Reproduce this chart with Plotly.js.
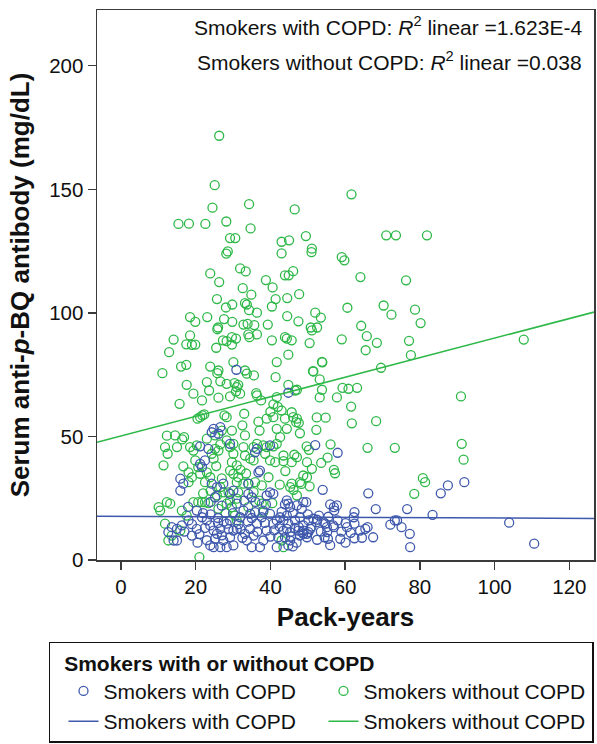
<!DOCTYPE html>
<html>
<head>
<meta charset="utf-8">
<script src="https://cdn.plot.ly/plotly-3.0.1.min.js"></script>
<style>
html,body{margin:0;padding:0;background:#fff;}
#chart{width:597px;height:744px;}
</style>
</head>
<body>
<div id="chart"></div>
<script>
// Smokers without COPD (green): pack-years and serum anti-p-BQ antibody (mg/dL)
const nonCopdPackYears = [
26.3,25.1,24.5,34.3,46.5,61.7,15.4,18.2,22.6,28.2,34.7,29.2,30.6,43.0,45.0,49.5,71.0,73.6,81.9,28.6,
28.2,43.0,51.1,51.0,59.1,59.8,31.9,33.4,23.9,26.3,38.8,43.9,44.9,46.1,64.1,76.3,32.6,40.6,34.9,25.7,
41.4,44.5,47.7,29.8,28.1,33.2,33.7,34.3,36.4,40.4,60.6,70.3,72.4,78.7,80.2,44.5,47.5,52.0,53.5,50.8,
52.5,64.3,18.5,19.9,23.1,27.6,29.8,32.8,33.9,35.7,39.3,26.0,50.5,65.8,59.1,68.5,77.1,65.5,77.6,53.8,
51.4,69.6,107.8,53.2,47.1,53.8,59.3,60.9,63.2,53.2,57.8,91.0,61.6,47.1,47.6,52.4,54.8,68.3,61.8,47.9,
52.3,91.2,56.1,66.0,73.3,49.7,50.3,47.1,49.8,55.3,53.6,91.7,57.0,57.3,51.1,49.8,48.3,50.5,80.8,81.4,
78.5,47.1,46.4,45.7,43.5,43.5,48.8,47.9,45.7,45.3,46.2,43.0,43.5,18.5,17.5,19.0,19.9,14.1,12.9,25.8,
27.3,25.5,28.3,29.7,30.8,29.7,34.1,34.4,36.4,40.4,41.7,11.1,16.1,17.5,23.9,25.8,26.1,26.6,30.1,33.2,
33.7,35.6,41.4,17.6,23.0,28.3,30.4,31.0,31.4,30.8,23.6,36.2,36.4,19.4,21.7,26.1,29.2,31.9,15.7,37.5,
40.8,41.7,21.2,22.3,20.5,21.8,27.7,28.3,33.0,32.5,29.7,27.0,37.1,39.0,40.8,41.7,14.5,16.9,16.4,33.2,
23.0,25.2,28.3,30.1,11.8,15.0,35.5,39.0,40.8,43.9,44.4,45.7,51.1,44.8,53.9,51.5,44.8,46.6,43.0,45.7,
43.9,46.1,46.9,44.4,42.6,12.5,11.4,16.7,18.5,19.4,20.3,24.3,25.2,26.6,18.1,19.0,18.1,21.2,23.0,23.9,
22.5,20.7,19.9,26.1,29.2,30.1,29.7,29.2,30.1,31.0,32.8,33.2,34.6,35.5,34.1,35.9,37.7,38.1,39.9,41.3,
31.0,26.6,27.4,25.7,28.8,28.3,29.7,31.0,29.2,19.4,20.7,21.7,22.5,23.4,10.1,10.5,12.3,13.2,11.8,13.6,
15.9,12.7,16.3,17.6,31.0,34.1,37.7,38.1,21.0,12.3,36.4,38.6,41.7,31.4,32.8,31.4,26.1,
24.0,27.0,32.0,35.5,39.5,42.5,22.0,25.5,33.5,37.0,40.5,28.0,24.8,30.5,36.8,42.0,44.0,40.0
];
const nonCopdAntibody = [
171.7,151.7,142.6,144.0,141.9,148.0,136.0,136.1,136.0,137.0,134.2,130.3,130.3,128.8,129.4,131.1,131.4,131.4,131.4,124.9,
124.0,124.1,126.0,124.6,122.6,121.3,118.0,116.8,116.0,112.5,113.3,115.2,115.2,116.9,114.5,113.2,110.0,110.3,107.4,105.6,
105.6,106.0,107.6,103.4,102.2,104.0,103.4,101.1,100.1,102.6,102.1,103.0,99.3,101.3,95.9,98.7,96.6,100.1,98.1,94.1,
94.1,94.8,98.3,96.4,98.3,97.5,96.4,95.3,95.6,95.1,95.3,94.1,87.8,90.6,89.3,87.9,88.7,84.9,82.9,80.2,
76.4,77.8,89.2,73.1,68.9,68.9,69.7,69.3,69.7,65.8,65.8,66.2,62.1,57.2,55.5,57.7,57.6,56.2,55.3,51.3,
52.7,47.0,46.8,45.4,45.4,46.0,44.6,41.6,39.6,41.4,39.3,40.6,36.5,35.1,36.9,33.5,30.8,29.8,33.1,31.5,
26.8,26.1,42.6,39.6,42.3,40.0,34.2,31.5,30.9,29.5,28.4,7.9,5.2,90.9,87.3,87.1,87.2,89.2,84.1,93.4,
88.9,85.9,88.6,90.2,89.6,87.2,91.3,90.2,91.3,88.9,80.1,75.6,78.3,79.0,78.3,75.6,76.7,72.3,80.1,76.7,
75.4,74.7,74.0,70.9,72.0,71.3,71.6,70.0,70.9,68.2,68.6,67.5,66.6,67.3,64.6,65.7,66.2,67.3,63.2,64.6,
63.0,65.9,57.8,58.9,57.2,58.5,58.5,57.8,59.2,54.5,52.4,52.4,52.4,57.2,57.8,53.1,50.4,49.7,48.8,50.4,
49.1,50.4,48.4,47.0,45.7,45.7,45.7,45.7,46.0,90.2,89.6,88.9,92.9,83.1,80.0,76.3,70.9,68.6,60.5,59.8,
57.2,57.8,55.8,53.1,49.7,43.0,38.3,37.9,45.7,44.3,46.4,43.0,45.0,46.8,35.5,33.5,31.5,34.9,35.5,33.5,
31.5,37.6,40.3,44.3,45.7,43.0,39.6,36.2,34.9,38.3,45.7,42.3,41.0,40.3,30.9,31.5,30.2,46.4,40.3,39.6,
31.5,29.5,27.4,26.1,27.4,22.8,21.4,24.8,24.1,23.4,23.4,23.4,23.4,23.0,21.4,20.0,23.4,22.8,14.7,9.9,
11.9,7.9,20.0,18.0,16.0,21.4,22.8,19.4,1.2,50.3,47.0,43.0,47.0,33.5,30.9,27.4,20.7,
28.0,33.0,36.5,27.5,33.5,30.5,27.0,38.0,35.0,24.0,23.0,19.0,41.0,18.0,56.0,62.0,36.0,60.0
];

// Smokers with COPD (blue)
const copdPackYears = [
52.0,58.0,54.0,66.2,85.6,87.5,91.9,47.1,49.6,56.0,57.0,57.8,57.1,62.5,62.3,68.2,76.6,83.4,103.9,110.6,
73.3,73.9,72.1,75.1,77.3,77.4,67.5,64.5,65.4,66.0,60.1,60.5,62.5,58.7,60.1,62.5,54.7,57.0,55.2,52.5,
54.5,55.4,50.7,49.8,48.9,47.9,47.6,48.5,49.8,52.5,44.4,43.9,45.3,44.8,48.8,48.4,64.0,42.6,43.5,44.4,
44.8,46.6,48.8,50.2,51.5,52.4,54.2,55.1,56.8,43.5,44.4,45.3,43.9,45.3,44.8,47.5,48.8,50.2,47.9,30.9,
24.8,24.3,26.6,26.1,21.2,29.2,36.4,39.9,44.8,35.9,37.2,23.4,15.9,15.9,16.7,21.7,21.2,22.5,24.3,25.7,
27.4,25.2,29.2,30.1,36.8,34.1,39.9,40.8,39.0,20.3,21.7,23.0,23.9,24.8,25.7,26.6,25.2,23.9,24.8,26.6,
27.4,15.0,16.3,19.0,20.3,18.1,14.1,15.0,12.7,28.3,29.2,30.1,31.0,29.2,28.3,30.1,32.8,34.6,35.9,37.7,
36.4,34.6,33.2,35.5,33.7,35.0,37.2,38.1,39.0,40.8,41.7,39.9,38.1,42.1,41.7,31.0,31.9,35.0,34.1,13.6,
22.0,24.0,26.0,27.5,22.5,21.0,23.0,27.0,28.8,31.5,32.5,34.0,36.5,38.5,40.0,41.0,42.5,43.0,46.0,46.5,
45.5,46.0,50.0,51.0,53.5,53.0,55.5,58.0,59.0,61.5,56.0,47.0,38.8,36.0,33.0,27.0,24.0,19.0,17.0,20.5,
18.0,32.0,35.0,30.0,26.0
];
const copdAntibody = [
46.5,43.4,28.4,27.0,27.0,30.2,31.5,22.1,23.4,22.5,21.4,22.1,20.0,19.4,17.3,20.6,20.6,18.3,15.1,6.6,
16.0,16.0,14.3,13.3,10.6,5.2,9.2,9.0,12.6,13.3,14.9,13.3,14.7,8.6,7.0,8.8,14.7,13.3,11.3,8.2,
9.2,8.6,12.6,10.6,11.9,17.3,13.3,11.3,9.2,16.3,24.1,22.5,21.4,22.8,23.4,20.7,11.9,17.3,16.0,18.0,
14.7,16.0,14.0,16.0,16.7,15.3,15.3,13.3,14.0,11.9,12.6,11.3,9.2,7.9,5.9,11.9,10.6,11.3,9.9,77.0,
53.1,51.7,53.8,51.1,46.0,47.0,45.0,46.4,67.7,43.6,36.2,45.0,32.9,28.1,30.9,37.6,38.9,40.3,30.9,29.5,
30.9,25.4,26.8,28.1,35.5,30.9,27.4,26.8,26.1,20.0,17.3,16.0,14.0,11.9,10.6,12.6,8.6,5.9,5.2,5.2,
7.9,12.6,14.0,9.9,12.6,16.0,7.9,7.9,11.3,14.7,16.0,11.9,12.6,9.2,5.2,5.9,20.0,18.7,19.4,17.3,
14.7,12.6,10.6,9.9,7.9,5.2,5.2,7.9,11.9,14.7,16.0,18.7,20.0,9.2,5.2,22.8,17.3,25.4,26.8,13.3,
19.0,18.5,17.0,15.5,13.0,10.5,8.0,10.0,12.5,14.5,9.0,15.5,11.5,15.0,9.5,12.0,13.5,19.5,19.0,13.0,
9.5,5.5,18.5,13.5,11.5,18.0,17.5,16.0,11.5,11.0,6.0,7.0,22.5,23.5,24.0,22.0,23.5,14.5,11.5,7.0,
21.5,12.5,17.0,19.0,15.0
];

// Linear fits: [intercept, slope]
const copdFit = [17.66, -0.0068];
const nonCopdFit = [50.2, 0.396];
const fitRange = [-6.4, 126.6];

const xTicks = [0, 20, 40, 60, 80, 100, 120];
const yTicks = [0, 50, 100, 150, 200];

const BLUE = '#3E58AC';
const GREEN = '#2EB848';
const FONT = 'Arial, "Liberation Sans", sans-serif';

const lineY = (fit) => fitRange.map(x => fit[0] + fit[1] * x);

const traces = [
  {
    x: nonCopdPackYears, y: nonCopdAntibody, type: 'scatter', mode: 'markers',
    name: 'Smokers without COPD', legendrank: 2,
    marker: {symbol: 'circle-open', size: 9, color: GREEN, line: {width: 1.3, color: GREEN}}
  },
  {
    x: copdPackYears, y: copdAntibody, type: 'scatter', mode: 'markers',
    name: 'Smokers with COPD', legendrank: 1,
    marker: {symbol: 'circle-open', size: 9, color: BLUE, line: {width: 1.3, color: BLUE}}
  },
  {
    x: fitRange, y: lineY(copdFit), type: 'scatter', mode: 'lines',
    name: 'Smokers with COPD', legendrank: 3,
    line: {color: BLUE, width: 1.5}
  },
  {
    x: fitRange, y: lineY(nonCopdFit), type: 'scatter', mode: 'lines',
    name: 'Smokers without COPD', legendrank: 4,
    line: {color: GREEN, width: 1.5}
  }
];

const axisCommon = {
  showgrid: false, zeroline: false,
  showline: true, mirror: true, linecolor: '#3a3a3a', linewidth: 1.5,
  ticks: 'outside', ticklen: 8, tickwidth: 1.3, tickcolor: '#3a3a3a',
  tickfont: {family: FONT, size: 20.5, color: '#111'}
};

const legendTitlePad = '&nbsp;'.repeat(37);

const layout = {
  width: 597, height: 744,
  margin: {l: 97, r: 3, t: 10, b: 184, autoexpand: false},
  paper_bgcolor: '#fff', plot_bgcolor: '#fff',
  font: {family: FONT, color: '#111'},
  showlegend: true,
  xaxis: Object.assign({}, axisCommon, {
    range: fitRange, tickvals: xTicks, ticktext: xTicks.map(String),
    title: {text: '<b>Pack-years</b>', font: {family: FONT, size: 26, color: '#111'}, standoff: 10}
  }),
  yaxis: Object.assign({}, axisCommon, {
    range: [0, 222.6], tickvals: yTicks, ticktext: yTicks.map(String),
    title: {text: '<b>Serum anti-<i>p</i>-BQ antibody (mg/dL)</b>', font: {family: FONT, size: 26, color: '#111'}, standoff: 12}
  }),
  legend: {
    orientation: 'h', x: -0.0966, xanchor: 'left', y: -0.149, yanchor: 'top',
    bordercolor: '#111', borderwidth: 1.5, bgcolor: '#fff',
    entrywidth: 202, entrywidthmode: 'pixels', indentation: 13,
    traceorder: 'normal',
    font: {family: FONT, size: 21, color: '#111'},
    title: {text: '<b>&nbsp;&nbsp;Smokers with or without COPD' + legendTitlePad + '</b>', side: 'top', font: {family: FONT, size: 21, color: '#111'}}
  },
  annotations: [
    {xref: 'paper', yref: 'paper', x: 0.98, y: 0.971, xanchor: 'right', yanchor: 'middle', showarrow: false,
     text: 'Smokers with COPD: <i>R</i><sup>2</sup> linear =1.623E-4', font: {family: FONT, size: 21, color: '#111'}},
    {xref: 'paper', yref: 'paper', x: 0.98, y: 0.908, xanchor: 'right', yanchor: 'middle', showarrow: false,
     text: 'Smokers without COPD: <i>R</i><sup>2</sup> linear =0.038', font: {family: FONT, size: 21, color: '#111'}}
  ]
};

Plotly.newPlot('chart', traces, layout, {displayModeBar: false, staticPlot: true});
</script>
</body>
</html>
